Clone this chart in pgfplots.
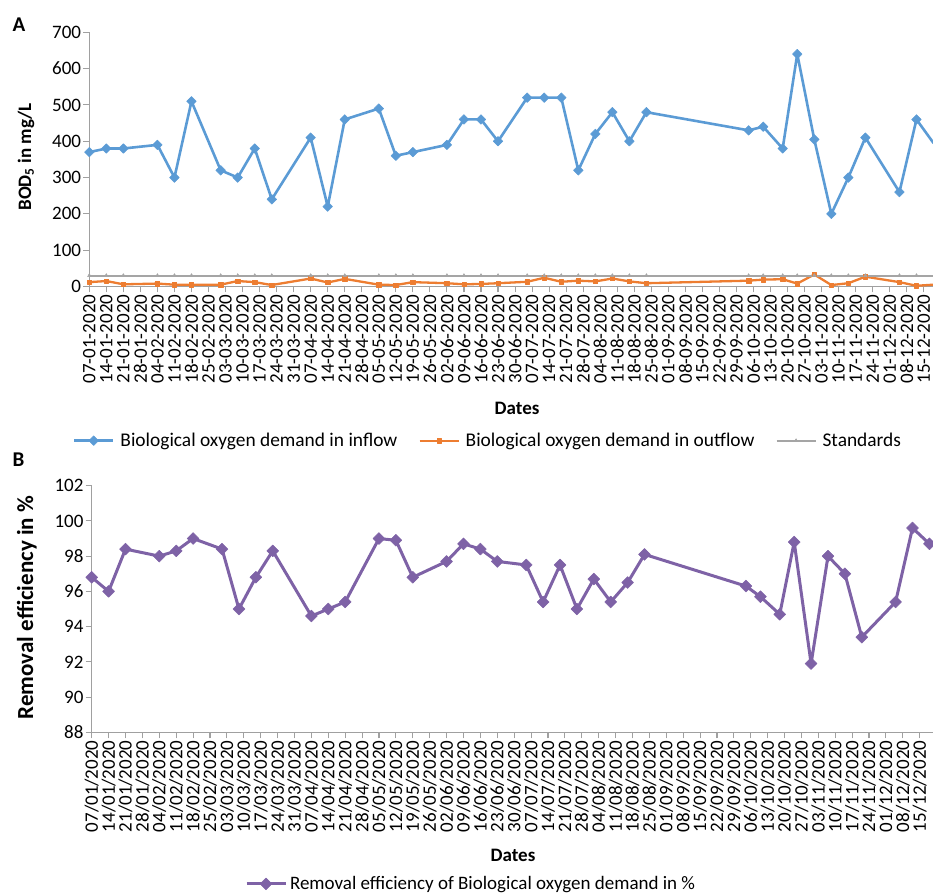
\documentclass[border=0pt]{standalone}
\usepackage{fontspec}
\setmainfont{Carlito}
\usepackage{pgfplots}
\pgfplotsset{compat=1.18}
\usepackage{pgfplotstable}

\definecolor{inflowblue}{HTML}{5B9BD5}
\definecolor{outfloworange}{HTML}{ED7D31}
\definecolor{stdgray}{HTML}{A5A5A5}
\definecolor{effpurple}{HTML}{7E62A6}
\definecolor{axisgray}{HTML}{A0A0A0}

% sampling day (days after 07-01-2020), BOD5 in inflow and outflow (mg/L),
% discharge standard (mg/L) and removal efficiency (%)
\pgfplotstableread{
day inflow outflow standard efficiency
0   370 12 30 96.8
7   380 15 30 96.0
14  380  6 30 98.4
28  390  8 30 98.0
35  300  5 30 98.3
42  510  5 30 99.0
54  320  5 30 98.4
61  300 15 30 95.0
68  380 12 30 96.8
75  240  4 30 98.3
91  410 22 30 94.6
98  220 11 30 95.0
105 460 21 30 95.4
119 490  5 30 99.0
126 360  4 30 98.9
133 370 12 30 96.8
147 390  9 30 97.7
154 460  6 30 98.7
161 460  7 30 98.4
168 400  9 30 97.7
180 520 13 30 97.5
187 520 24 30 95.4
194 520 13 30 97.5
201 320 16 30 95.0
208 420 14 30 96.7
215 480 22 30 95.4
222 400 14 30 96.5
229 480  9 30 98.1
271 430 16 30 96.3
277 440 19 30 95.7
285 380 20 30 94.7
291 640  8 30 98.8
298 405 33 30 91.9
305 200  4 30 98.0
312 300  9 30 97.0
319 410 27 30 93.4
333 260 12 30 95.4
340 460  2 30 99.6
347 395  5 30 98.7
}\bodtable

\newcommand{\fs}{\fontsize{19}{22}\selectfont}
\newcommand{\lfs}{\fontsize{19.4}{22}\selectfont}

\pgfplotsset{
  excelaxis/.style={
    scale only axis,
    axis x line=bottom, axis y line=left,
    axis line style={-, draw=axisgray, line width=1.1pt},
    tick style={draw=axisgray, line width=1.1pt},
    tick align=outside, major tick length=6pt,
    tick label style={font=\fs},
    /pgf/number format/assume math mode=true,
    xticklabel style={rotate=90, anchor=east, inner sep=2pt},
    yticklabel style={inner sep=2pt},
    xtick={0,7,...,343},
    minor tick num=0,
    legend cell align=left,
    every axis plot/.append style={line join=round},
    legend image code/.code={
      \draw[mark repeat=2, mark phase=2, #1]
        plot coordinates {(0pt,0pt) (19.5pt,0pt) (39pt,0pt)};},
  },
}

\begin{document}
\begin{tikzpicture}
\useasboundingbox (0,0) rectangle (933pt,893pt);

% panel A: BOD5 in inflow, outflow and the standard
\begin{axis}[excelaxis,
  at={(89.3pt,606.5pt)}, anchor=south west,
  width=843.7pt, height=254.2pt,
  xmin=0, xmax=346.8, ymin=0, ymax=700,
  ytick={0,100,...,700},
  xticklabels={07-01-2020,14-01-2020,21-01-2020,28-01-2020,04-02-2020,11-02-2020,18-02-2020,25-02-2020,03-03-2020,10-03-2020,17-03-2020,24-03-2020,31-03-2020,07-04-2020,14-04-2020,21-04-2020,28-04-2020,05-05-2020,12-05-2020,19-05-2020,26-05-2020,02-06-2020,09-06-2020,16-06-2020,23-06-2020,30-06-2020,07-07-2020,14-07-2020,21-07-2020,28-07-2020,04-08-2020,11-08-2020,18-08-2020,25-08-2020,01-09-2020,08-09-2020,15-09-2020,22-09-2020,29-09-2020,06-10-2020,13-10-2020,20-10-2020,27-10-2020,03-11-2020,10-11-2020,17-11-2020,24-11-2020,01-12-2020,08-12-2020,15-12-2020},
  xlabel={\textbf{Dates}},
  xlabel style={font=\fs, at={(axis description cs:0.507,-0.478)}, anchor=center},
  ylabel={\textbf{BOD\textsubscript{5} in mg/L}},
  ylabel style={font=\fs, at={(axis description cs:-0.075,0.51)}, anchor=center, rotate=0},
  legend columns=3,
  legend style={draw=none, fill=none, font=\lfs,
    at={(axis description cs:-0.0197,-0.6066)}, anchor=west,
    inner sep=0pt,
    /tikz/every odd column/.append style={column sep=4pt},
    /tikz/every even column/.append style={column sep=19pt}},
]
\addplot[color=inflowblue, line width=2.6pt, mark=square*,
  mark options={rotate=45, mark size=3.4pt, line width=0.5pt}]
  table[x=day, y=inflow]{\bodtable};
\addlegendentry{Biological oxygen demand in inflow}
\addplot[color=outfloworange, line width=2.3pt, mark=square*,
  mark options={mark size=2.2pt, line width=0.5pt}]
  table[x=day, y=outflow]{\bodtable};
\addlegendentry{Biological oxygen demand in outflow}
\addplot[color=stdgray, line width=2pt, mark=triangle*,
  mark options={mark size=2pt, line width=0.5pt}]
  table[x=day, y=standard]{\bodtable};
\addlegendentry{Standards}
\end{axis}

% panel B: removal efficiency
\begin{axis}[excelaxis,
  at={(91.7pt,160.7pt)}, anchor=south west,
  width=841.3pt, height=246.6pt,
  xmin=0, xmax=348.5, ymin=88, ymax=102,
  ytick={88,90,...,102},
  xticklabels={07/01/2020,14/01/2020,21/01/2020,28/01/2020,04/02/2020,11/02/2020,18/02/2020,25/02/2020,03/03/2020,10/03/2020,17/03/2020,24/03/2020,31/03/2020,07/04/2020,14/04/2020,21/04/2020,28/04/2020,05/05/2020,12/05/2020,19/05/2020,26/05/2020,02/06/2020,09/06/2020,16/06/2020,23/06/2020,30/06/2020,07/07/2020,14/07/2020,21/07/2020,28/07/2020,04/08/2020,11/08/2020,18/08/2020,25/08/2020,01/09/2020,08/09/2020,15/09/2020,22/09/2020,29/09/2020,06/10/2020,13/10/2020,20/10/2020,27/10/2020,03/11/2020,10/11/2020,17/11/2020,24/11/2020,01/12/2020,08/12/2020,15/12/2020},
  xlabel={\textbf{Dates}},
  xlabel style={font=\fs, at={(axis description cs:0.5008,-0.4976)}, anchor=center},
  ylabel={\textbf{Removal efficiency in \%}},
  ylabel style={font=\fontsize{23}{26}\selectfont, at={(axis description cs:-0.077,0.506)}, anchor=center, rotate=0},
  legend style={draw=none, fill=none, font=\fs,
    at={(axis description cs:0.182,-0.6148)}, anchor=west,
    inner sep=0pt,
    /tikz/every odd column/.append style={column sep=1pt}},
]
\addplot[color=effpurple, line width=3pt, mark=square*,
  mark options={rotate=45, mark size=4.2pt, line width=0.5pt}]
  table[x=day, y=efficiency]{\bodtable};
\addlegendentry{Removal efficiency of Biological oxygen demand in \%}
\end{axis}

\node[font=\fontsize{21}{24}\selectfont\bfseries] at (19pt,868pt) {A};
\node[font=\fontsize{21}{24}\selectfont\bfseries] at (18.5pt,433pt) {B};
\end{tikzpicture}
\end{document}
